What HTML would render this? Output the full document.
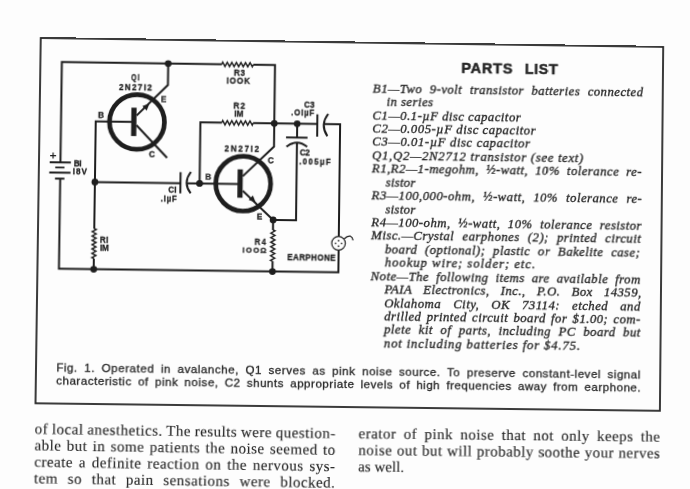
<!DOCTYPE html>
<html><head><meta charset="utf-8"><title>Pink noise generator</title>
<style>
html,body{margin:0;padding:0;background:#fdfdfd;}
body{width:690px;height:489px;overflow:hidden;position:relative;}
#f{position:absolute;left:0;top:0;width:623px;height:365px;transform-origin:0 0;transform:matrix3d(1.0032807,0.014580149,0,6.2779292e-06,-0.014685295,0.99739406,0,-8.499527e-06,0,0,1,0,40.75,38,0,1);}
#f svg{position:absolute;left:0;top:0;overflow:visible;}
</style></head>
<body>
<div id="f">
<svg width="623" height="450" viewBox="0 0 623 450">
<g fill="none" stroke="#1e1e1e" stroke-width="2.0" stroke-linejoin="miter" stroke-linecap="butt">
<path d="M21.4,124.3 V23.8 H181.0"/>
<path d="M212.4,23.8 H234.2 V105.5 L203.4,135.6"/>
<path d="M127.5,23.8 V45.3 L96.6,76.4"/>
<path d="M96.6,86.0 L127.6,118.3"/>
<path d="M92.1,82.7 H56.0 V190.0"/>
<path d="M56.0,219.9 V230.6"/>
<path d="M56.0,143.4 H141.3"/>
<path d="M141.3,132.4 V153.6"/>
<path d="M151.6,132.0 Q143.4,142.9 151.6,153.4"/>
<path d="M147.3,143.4 H199.9"/>
<path d="M160.4,143.4 V82.3 H181.8"/>
<path d="M213.1,82.3 H277.2"/>
<path d="M277.2,72.6 V95.0"/>
<path d="M288.0,72.0 Q279.6,83.0 287.4,94.4"/>
<path d="M283.6,82.3 H300.0 V194.6"/>
<path d="M300.0,208.3 V230.6 H21.4 V140.5"/>
<path d="M257.1,82.3 V96.2"/>
<path d="M246.1,96.2 H267.6"/>
<path d="M246.6,105.6 Q257.0,97.0 267.3,105.3"/>
<path d="M257.1,101.3 V178.9 H234.2"/>
<path d="M203.6,150.3 L234.2,178.9"/>
<path d="M234.2,178.9 V189.0"/>
<path d="M234.2,220.3 V230.6"/>
</g>
<g fill="none" stroke="#1e1e1e" stroke-width="1.45" stroke-linejoin="miter" stroke-miterlimit="10">
<path d="M181.00,23.80 L181.90,21.70 L184.18,25.90 L186.45,21.70 L188.73,25.90 L191.01,21.70 L193.28,25.90 L195.56,21.70 L197.84,25.90 L200.12,21.70 L202.39,25.90 L204.67,21.70 L206.95,25.90 L209.22,21.70 L211.50,25.90 L212.40,23.80"/>
<path d="M56.00,190.00 L58.00,190.90 L54.00,193.06 L58.00,195.22 L54.00,197.38 L58.00,199.55 L54.00,201.71 L58.00,203.87 L54.00,206.03 L58.00,208.19 L54.00,210.35 L58.00,212.52 L54.00,214.68 L58.00,216.84 L54.00,219.00 L56.00,219.90"/>
<path d="M181.80,82.30 L182.70,80.20 L184.97,84.40 L187.24,80.20 L189.51,84.40 L191.78,80.20 L194.05,84.40 L196.32,80.20 L198.58,84.40 L200.85,80.20 L203.12,84.40 L205.39,80.20 L207.66,84.40 L209.93,80.20 L212.20,84.40 L213.10,82.30"/>
<path d="M234.20,189.00 L236.20,189.90 L232.20,192.17 L236.20,194.44 L232.20,196.71 L236.20,198.98 L232.20,201.25 L236.20,203.52 L232.20,205.78 L236.20,208.05 L232.20,210.32 L236.20,212.59 L232.20,214.86 L236.20,217.13 L232.20,219.40 L234.20,220.30"/>
</g>
<g stroke="#1e1e1e" stroke-width="1.9"><path d="M10.7,124.3 H31.8 M16.3,129.4 H25.5 M10.4,134.5 H31.6 M16.2,140.5 H25.6"/></g>
<path d="M11.0,117.6 H17.0 M14.0,114.6 V120.6" stroke="#1e1e1e" stroke-width="1.2"/>
<circle cx="97.1" cy="82.8" r="27.4" fill="none" stroke="#1e1e1e" stroke-width="4.7"/>
<rect x="91.4" y="68.5" width="5.2" height="28.4" fill="#1e1e1e"/>
<circle cx="203.9" cy="143.1" r="27.4" fill="none" stroke="#1e1e1e" stroke-width="4.7"/>
<rect x="198.20000000000002" y="128.79999999999998" width="5.2" height="28.4" fill="#1e1e1e"/>
<path d="M109.40,64.10 L106.64,71.24 L102.26,66.86 Z" fill="#1e1e1e"/>
<path d="M216.60,161.70 L209.52,159.31 L213.76,154.79 Z" fill="#1e1e1e"/>
<circle cx="127.5" cy="23.8" r="3.4" fill="#1e1e1e"/>
<circle cx="56.0" cy="143.4" r="3.4" fill="#1e1e1e"/>
<circle cx="160.4" cy="143.4" r="3.4" fill="#1e1e1e"/>
<circle cx="234.2" cy="82.3" r="3.4" fill="#1e1e1e"/>
<circle cx="257.1" cy="82.3" r="3.4" fill="#1e1e1e"/>
<circle cx="234.2" cy="178.9" r="3.4" fill="#1e1e1e"/>
<circle cx="56.0" cy="230.6" r="3.4" fill="#1e1e1e"/>
<circle cx="234.2" cy="230.6" r="3.4" fill="#1e1e1e"/>
<circle cx="299.8" cy="201.5" r="6.8" fill="none" stroke="#1e1e1e" stroke-width="1.2"/>
<circle cx="299.8" cy="198.8" r="0.85" fill="#1e1e1e"/>
<circle cx="296.8" cy="201.5" r="0.85" fill="#1e1e1e"/>
<circle cx="302.8" cy="201.5" r="0.85" fill="#1e1e1e"/>
<circle cx="299.8" cy="204.3" r="0.85" fill="#1e1e1e"/>
<path d="M305.4,197.0 Q308.6,193.6 311.6,194.2 Q313.6,195.0 314.3,198.4" fill="none" stroke="#1e1e1e" stroke-width="1.2"/>
<text x="90.74" y="41.24" textLength="9.68" lengthAdjust="spacingAndGlyphs" style="letter-spacing:1.665px" font-family="Liberation Sans, sans-serif" font-weight="bold" font-size="8.6" fill="#1e1e1e" stroke="#1e1e1e" stroke-width="0.3">QI</text>
<text x="78.71" y="50.96" textLength="34.12" lengthAdjust="spacingAndGlyphs" style="letter-spacing:1.365px" font-family="Liberation Sans, sans-serif" font-weight="bold" font-size="8.6" fill="#1e1e1e" stroke="#1e1e1e" stroke-width="0.3">2N27I2</text>
<text x="123.46" y="62.39" text-anchor="middle" font-family="Liberation Sans, sans-serif" font-weight="bold" font-size="8.6" fill="#1e1e1e" stroke="#1e1e1e" stroke-width="0.3" transform="translate(123.46,0) scale(0.95,1) translate(-123.46,0)">E</text>
<text x="112.47" y="117.82" text-anchor="middle" font-family="Liberation Sans, sans-serif" font-weight="bold" font-size="8.6" fill="#1e1e1e" stroke="#1e1e1e" stroke-width="0.3" transform="translate(112.47,0) scale(0.95,1) translate(-112.47,0)">C</text>
<text x="61.19" y="79.18" text-anchor="middle" font-family="Liberation Sans, sans-serif" font-weight="bold" font-size="8.6" fill="#1e1e1e" stroke="#1e1e1e" stroke-width="0.3" transform="translate(61.19,0) scale(0.95,1) translate(-61.19,0)">B</text>
<text x="193.30" y="35.37" textLength="11.53" lengthAdjust="spacingAndGlyphs" style="letter-spacing:0.567px" font-family="Liberation Sans, sans-serif" font-weight="bold" font-size="8.6" fill="#1e1e1e" stroke="#1e1e1e" stroke-width="0.3">R3</text>
<text x="185.92" y="43.51" textLength="24.21" lengthAdjust="spacingAndGlyphs" style="letter-spacing:0.879px" font-family="Liberation Sans, sans-serif" font-weight="bold" font-size="8.6" fill="#1e1e1e" stroke="#1e1e1e" stroke-width="0.3">IOOK</text>
<text x="193.32" y="68.35" textLength="12.32" lengthAdjust="spacingAndGlyphs" style="letter-spacing:0.984px" font-family="Liberation Sans, sans-serif" font-weight="bold" font-size="8.6" fill="#1e1e1e" stroke="#1e1e1e" stroke-width="0.3">R2</text>
<text x="194.22" y="76.27" textLength="9.30" lengthAdjust="spacingAndGlyphs" style="letter-spacing:0.124px" font-family="Liberation Sans, sans-serif" font-weight="bold" font-size="8.6" fill="#1e1e1e" stroke="#1e1e1e" stroke-width="0.3">IM</text>
<text x="263.65" y="66.47" textLength="10.94" lengthAdjust="spacingAndGlyphs" style="letter-spacing:0.259px" font-family="Liberation Sans, sans-serif" font-weight="bold" font-size="8.6" fill="#1e1e1e" stroke="#1e1e1e" stroke-width="0.3">C3</text>
<text x="251.05" y="74.48" textLength="23.83" lengthAdjust="spacingAndGlyphs" style="letter-spacing:0.889px" font-family="Liberation Sans, sans-serif" font-weight="bold" font-size="8.2" fill="#1e1e1e" stroke="#1e1e1e" stroke-width="0.3">.OIµF</text>
<text x="260.03" y="114.44" textLength="9.73" lengthAdjust="spacingAndGlyphs" style="letter-spacing:-0.378px" font-family="Liberation Sans, sans-serif" font-weight="bold" font-size="8.6" fill="#1e1e1e" stroke="#1e1e1e" stroke-width="0.3">C2</text>
<text x="259.53" y="122.62" textLength="32.90" lengthAdjust="spacingAndGlyphs" style="letter-spacing:1.495px" font-family="Liberation Sans, sans-serif" font-weight="bold" font-size="8.2" fill="#1e1e1e" stroke="#1e1e1e" stroke-width="0.3">.005µF</text>
<text x="231.20" y="122.32" text-anchor="middle" font-family="Liberation Sans, sans-serif" font-weight="bold" font-size="8.6" fill="#1e1e1e" stroke="#1e1e1e" stroke-width="0.3" transform="translate(231.20,0) scale(0.95,1) translate(-231.20,0)">C</text>
<text x="184.87" y="110.59" textLength="35.95" lengthAdjust="spacingAndGlyphs" style="letter-spacing:1.687px" font-family="Liberation Sans, sans-serif" font-weight="bold" font-size="8.6" fill="#1e1e1e" stroke="#1e1e1e" stroke-width="0.3">2N27I2</text>
<text x="168.97" y="139.58" text-anchor="middle" font-family="Liberation Sans, sans-serif" font-weight="bold" font-size="8.6" fill="#1e1e1e" stroke="#1e1e1e" stroke-width="0.3" transform="translate(168.97,0) scale(0.95,1) translate(-168.97,0)">B</text>
<text x="220.62" y="178.72" text-anchor="middle" font-family="Liberation Sans, sans-serif" font-weight="bold" font-size="8.6" fill="#1e1e1e" stroke="#1e1e1e" stroke-width="0.3" transform="translate(220.62,0) scale(0.95,1) translate(-220.62,0)">E</text>
<text x="34.80" y="127.83" textLength="7.37" lengthAdjust="spacingAndGlyphs" style="letter-spacing:-0.416px" font-family="Liberation Sans, sans-serif" font-weight="bold" font-size="8.6" fill="#1e1e1e" stroke="#1e1e1e" stroke-width="0.3">BI</text>
<text x="33.63" y="136.50" textLength="15.38" lengthAdjust="spacingAndGlyphs" style="letter-spacing:1.096px" font-family="Liberation Sans, sans-serif" font-weight="bold" font-size="8.6" fill="#1e1e1e" stroke="#1e1e1e" stroke-width="0.3">I8V</text>
<text x="129.15" y="153.16" textLength="8.79" lengthAdjust="spacingAndGlyphs" style="letter-spacing:0.327px" font-family="Liberation Sans, sans-serif" font-weight="bold" font-size="8.6" fill="#1e1e1e" stroke="#1e1e1e" stroke-width="0.3">CI</text>
<text x="121.88" y="161.62" textLength="16.61" lengthAdjust="spacingAndGlyphs" style="letter-spacing:0.802px" font-family="Liberation Sans, sans-serif" font-weight="bold" font-size="8.2" fill="#1e1e1e" stroke="#1e1e1e" stroke-width="0.3">.IµF</text>
<text x="61.86" y="203.65" textLength="8.76" lengthAdjust="spacingAndGlyphs" style="letter-spacing:0.316px" font-family="Liberation Sans, sans-serif" font-weight="bold" font-size="8.6" fill="#1e1e1e" stroke="#1e1e1e" stroke-width="0.3">RI</text>
<text x="61.97" y="211.94" textLength="8.65" lengthAdjust="spacingAndGlyphs" style="letter-spacing:-0.219px" font-family="Liberation Sans, sans-serif" font-weight="bold" font-size="8.6" fill="#1e1e1e" stroke="#1e1e1e" stroke-width="0.3">IM</text>
<text x="215.99" y="203.52" textLength="12.80" lengthAdjust="spacingAndGlyphs" style="letter-spacing:1.505px" font-family="Liberation Sans, sans-serif" font-weight="bold" font-size="8.2" fill="#1e1e1e" stroke="#1e1e1e" stroke-width="0.3">R4</text>
<text x="204.03" y="212.49" textLength="25.25" lengthAdjust="spacingAndGlyphs" style="letter-spacing:1.370px" font-family="Liberation Sans, sans-serif" font-weight="bold" font-size="8.0" fill="#1e1e1e" stroke="#1e1e1e" stroke-width="0.3">IOOΩ</text>
<text x="248.72" y="218.75" textLength="48.61" lengthAdjust="spacingAndGlyphs" style="letter-spacing:0.306px" font-family="Liberation Sans, sans-serif" font-weight="bold" font-size="8.6" fill="#1e1e1e" stroke="#1e1e1e" stroke-width="0.3">EARPHONE</text>
<rect x="0" y="0" width="623.0" height="365.0" fill="none" stroke="#262626" stroke-width="1.8"/>
<text x="420.75" y="29.40" textLength="51.40" lengthAdjust="spacing" style="letter-spacing:0.2px;word-spacing:0.000px" font-family="Liberation Sans, sans-serif" font-style="normal" font-weight="bold" font-size="14.6" fill="#262626" stroke="#262626" stroke-width="0.5">PARTS</text>
<text x="484.25" y="29.40" textLength="33.30" lengthAdjust="spacing" style="letter-spacing:0.2px;word-spacing:0.000px" font-family="Liberation Sans, sans-serif" font-style="normal" font-weight="bold" font-size="14.6" fill="#262626" stroke="#262626" stroke-width="0.5">LIST</text>
<text x="332.37" y="49.80" textLength="271.22" lengthAdjust="spacing" style="letter-spacing:0.45px;word-spacing:3.910px" font-family="Liberation Serif, serif" font-style="italic" font-weight="normal" font-size="12.8" fill="#262626" stroke="#262626" stroke-width="0.33">B1—Two 9-volt transistor batteries connected</text>
<text x="346.17" y="63.22" textLength="47.12" lengthAdjust="spacing" style="letter-spacing:0.45px;word-spacing:0.000px" font-family="Liberation Serif, serif" font-style="italic" font-weight="normal" font-size="12.8" fill="#262626" stroke="#262626" stroke-width="0.33">in series</text>
<text x="332.37" y="76.64" textLength="148.82" lengthAdjust="spacing" style="letter-spacing:0.45px;word-spacing:0.000px" font-family="Liberation Serif, serif" font-style="italic" font-weight="normal" font-size="12.8" fill="#262626" stroke="#262626" stroke-width="0.33">C1—0.1-µF disc capacitor</text>
<text x="332.37" y="90.06" textLength="163.82" lengthAdjust="spacing" style="letter-spacing:0.45px;word-spacing:0.000px" font-family="Liberation Serif, serif" font-style="italic" font-weight="normal" font-size="12.8" fill="#262626" stroke="#262626" stroke-width="0.33">C2—0.005-µF disc capacitor</text>
<text x="332.37" y="103.48" textLength="158.32" lengthAdjust="spacing" style="letter-spacing:0.45px;word-spacing:0.000px" font-family="Liberation Serif, serif" font-style="italic" font-weight="normal" font-size="12.8" fill="#262626" stroke="#262626" stroke-width="0.33">C3—0.01-µF disc capacitor</text>
<text x="332.37" y="116.90" textLength="211.92" lengthAdjust="spacing" style="letter-spacing:0.45px;word-spacing:0.000px" font-family="Liberation Serif, serif" font-style="italic" font-weight="normal" font-size="12.8" fill="#262626" stroke="#262626" stroke-width="0.33">Q1,Q2—2N2712 transistor (see text)</text>
<text x="332.37" y="130.32" textLength="270.52" lengthAdjust="spacing" style="letter-spacing:0.45px;word-spacing:3.427px" font-family="Liberation Serif, serif" font-style="italic" font-weight="normal" font-size="12.8" fill="#262626" stroke="#262626" stroke-width="0.33">R1,R2—1-megohm, ½-watt, 10% tolerance re-</text>
<text x="346.17" y="143.74" textLength="30.32" lengthAdjust="spacing" style="letter-spacing:0.45px;word-spacing:0.000px" font-family="Liberation Serif, serif" font-style="italic" font-weight="normal" font-size="12.8" fill="#262626" stroke="#262626" stroke-width="0.33">sistor</text>
<text x="332.37" y="157.16" textLength="270.92" lengthAdjust="spacing" style="letter-spacing:0.45px;word-spacing:4.414px" font-family="Liberation Serif, serif" font-style="italic" font-weight="normal" font-size="12.8" fill="#262626" stroke="#262626" stroke-width="0.33">R3—100,000-ohm, ½-watt, 10% tolerance re-</text>
<text x="346.17" y="170.58" textLength="30.52" lengthAdjust="spacing" style="letter-spacing:0.45px;word-spacing:0.000px" font-family="Liberation Serif, serif" font-style="italic" font-weight="normal" font-size="12.8" fill="#262626" stroke="#262626" stroke-width="0.33">sistor</text>
<text x="332.37" y="184.00" textLength="270.92" lengthAdjust="spacing" style="letter-spacing:0.45px;word-spacing:3.851px" font-family="Liberation Serif, serif" font-style="italic" font-weight="normal" font-size="12.8" fill="#262626" stroke="#262626" stroke-width="0.33">R4—100-ohm, ½-watt, 10% tolerance resistor</text>
<text x="332.37" y="197.42" textLength="270.32" lengthAdjust="spacing" style="letter-spacing:0.45px;word-spacing:4.549px" font-family="Liberation Serif, serif" font-style="italic" font-weight="normal" font-size="12.8" fill="#262626" stroke="#262626" stroke-width="0.33">Misc.—Crystal earphones (2); printed circuit</text>
<text x="346.17" y="210.84" textLength="255.72" lengthAdjust="spacing" style="letter-spacing:0.45px;word-spacing:4.082px" font-family="Liberation Serif, serif" font-style="italic" font-weight="normal" font-size="12.8" fill="#262626" stroke="#262626" stroke-width="0.33">board (optional); plastic or Bakelite case;</text>
<text x="346.17" y="224.26" textLength="150.92" lengthAdjust="spacing" style="letter-spacing:0.45px;word-spacing:0.000px" font-family="Liberation Serif, serif" font-style="italic" font-weight="normal" font-size="12.8" fill="#262626" stroke="#262626" stroke-width="0.33">hookup wire; solder; etc.</text>
<text x="332.37" y="237.68" textLength="270.22" lengthAdjust="spacing" style="letter-spacing:0.45px;word-spacing:3.372px" font-family="Liberation Serif, serif" font-style="italic" font-weight="normal" font-size="12.8" fill="#262626" stroke="#262626" stroke-width="0.33">Note—The following items are available from</text>
<text x="346.17" y="251.10" textLength="257.52" lengthAdjust="spacing" style="letter-spacing:0.45px;word-spacing:7.501px" font-family="Liberation Serif, serif" font-style="italic" font-weight="normal" font-size="12.8" fill="#262626" stroke="#262626" stroke-width="0.33">PAIA Electronics, Inc., P.O. Box 14359,</text>
<text x="346.17" y="264.52" textLength="256.62" lengthAdjust="spacing" style="letter-spacing:0.45px;word-spacing:8.415px" font-family="Liberation Serif, serif" font-style="italic" font-weight="normal" font-size="12.8" fill="#262626" stroke="#262626" stroke-width="0.33">Oklahoma City, OK 73114: etched and</text>
<text x="346.17" y="277.94" textLength="256.82" lengthAdjust="spacing" style="letter-spacing:0.45px;word-spacing:1.613px" font-family="Liberation Serif, serif" font-style="italic" font-weight="normal" font-size="12.8" fill="#262626" stroke="#262626" stroke-width="0.33">drilled printed circuit board for $1.00; com-</text>
<text x="346.17" y="291.36" textLength="256.92" lengthAdjust="spacing" style="letter-spacing:0.45px;word-spacing:3.908px" font-family="Liberation Serif, serif" font-style="italic" font-weight="normal" font-size="12.8" fill="#262626" stroke="#262626" stroke-width="0.33">plete kit of parts, including PC board but</text>
<text x="346.17" y="304.78" textLength="196.72" lengthAdjust="spacing" style="letter-spacing:0.45px;word-spacing:0.000px" font-family="Liberation Serif, serif" font-style="italic" font-weight="normal" font-size="12.8" fill="#262626" stroke="#262626" stroke-width="0.33">not including batteries for $4.75.</text>
<text x="20.15" y="333.20" textLength="583.40" lengthAdjust="spacing" style="letter-spacing:0.5px;word-spacing:2.859px" font-family="Liberation Sans, sans-serif" font-style="normal" font-weight="normal" font-size="11.6" fill="#262626" stroke="#262626" stroke-width="0.3">Fig. 1. Operated in avalanche, Q1 serves as pink noise source. To preserve constant-level signal</text>
<text x="20.15" y="346.30" textLength="583.90" lengthAdjust="spacing" style="letter-spacing:0.5px;word-spacing:2.429px" font-family="Liberation Sans, sans-serif" font-style="normal" font-weight="normal" font-size="11.6" fill="#262626" stroke="#262626" stroke-width="0.3">characteristic of pink noise, C2 shunts appropriate levels of high frequencies away from earphone.</text>
<text x="-0.44" y="395.30" textLength="299.83" lengthAdjust="spacing" transform="rotate(0.191 -0.50 395.30)" style="letter-spacing:0.45px;word-spacing:-0.442px" font-family="Liberation Serif, serif" font-style="normal" font-weight="normal" font-size="15.0" fill="#262626" stroke="#262626" stroke-width="0.12">of local anesthetics. The results were question-</text>
<text x="-0.44" y="411.70" textLength="299.83" lengthAdjust="spacing" transform="rotate(0.191 -0.50 411.70)" style="letter-spacing:0.45px;word-spacing:1.100px" font-family="Liberation Serif, serif" font-style="normal" font-weight="normal" font-size="15.0" fill="#262626" stroke="#262626" stroke-width="0.12">able but in some patients the noise seemed to</text>
<text x="-0.44" y="428.10" textLength="299.83" lengthAdjust="spacing" transform="rotate(0.191 -0.50 428.10)" style="letter-spacing:0.45px;word-spacing:1.616px" font-family="Liberation Serif, serif" font-style="normal" font-weight="normal" font-size="15.0" fill="#262626" stroke="#262626" stroke-width="0.12">create a definite reaction on the nervous sys-</text>
<text x="-0.44" y="444.50" textLength="299.83" lengthAdjust="spacing" transform="rotate(0.191 -0.50 444.50)" style="letter-spacing:0.45px;word-spacing:5.448px" font-family="Liberation Serif, serif" font-style="normal" font-weight="normal" font-size="15.0" fill="#262626" stroke="#262626" stroke-width="0.12">tem so that pain sensations were blocked.</text>
<text x="322.06" y="396.10" textLength="301.63" lengthAdjust="spacing" transform="rotate(-0.057 322.00 396.10)" style="letter-spacing:0.45px;word-spacing:3.153px" font-family="Liberation Serif, serif" font-style="normal" font-weight="normal" font-size="15.0" fill="#262626" stroke="#262626" stroke-width="0.12">erator of pink noise that not only keeps the</text>
<text x="322.06" y="412.60" textLength="301.73" lengthAdjust="spacing" transform="rotate(-0.057 322.00 412.60)" style="letter-spacing:0.45px;word-spacing:0.330px" font-family="Liberation Serif, serif" font-style="normal" font-weight="normal" font-size="15.0" fill="#262626" stroke="#262626" stroke-width="0.12">noise out but will probably soothe your nerves</text>
<text x="322.06" y="429.10" textLength="46.33" lengthAdjust="spacing" transform="rotate(-0.057 322.00 429.10)" style="letter-spacing:0.45px;word-spacing:0.000px" font-family="Liberation Serif, serif" font-style="normal" font-weight="normal" font-size="15.0" fill="#262626" stroke="#262626" stroke-width="0.12">as well.</text>
</svg>
</div>
</body></html>
